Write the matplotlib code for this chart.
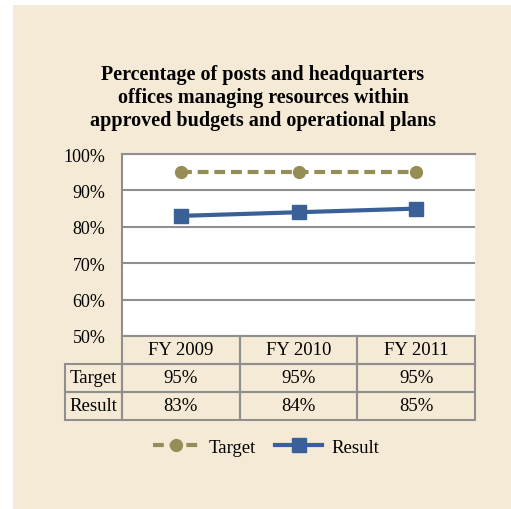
import matplotlib.pyplot as plt
from matplotlib.patches import Rectangle
from matplotlib.ticker import FuncFormatter

plt.rcParams['font.family'] = ['Liberation Serif', 'DejaVu Serif']

years = ["FY 2009", "FY 2010", "FY 2011"]
target = [95, 95, 95]
result = [83, 84, 85]
yticks = [50, 60, 70, 80, 90, 100]

BEIGE = '#F5EAD6'
OLIVE = '#968C55'
BLUE = '#3A6098'
GRID = '#8F8F8F'

W, H = 511, 510
fig = plt.figure(figsize=(W / 100, H / 100), dpi=100, facecolor='white')
fig.patches.append(Rectangle((13 / W, 0), 1, 1 - 6 / H, transform=fig.transFigure,
                             facecolor=BEIGE, edgecolor='none', zorder=-10))

# plot area in pixel coords
left, right, top, bottom = 122, 475, 155, 337
ax = fig.add_axes([left / W, 1 - bottom / H, (right - left) / W, (bottom - top) / H])
ax.set_facecolor('white')

x = list(range(len(years)))
ax.plot(x, target, color=OLIVE, lw=3, ls=(0, (2.6, 1.4)), marker='o', ms=8.5,
        label='Target', zorder=3)
ax.plot(x, result, color=BLUE, lw=3, marker='s', ms=10, label='Result', zorder=3)

ax.set_xlim(-0.5, len(years) - 0.5)
ax.set_ylim(50, 100)
ax.set_yticks(yticks)
ax.yaxis.set_major_formatter(FuncFormatter(lambda v, p: f"{v:.0f}%"))
ax.set_xticks([])
ax.tick_params(axis='y', length=0, pad=12, labelsize=13)
ax.grid(axis='y', color=GRID, lw=1.5)
for s in ['right', 'bottom']:
    ax.spines[s].set_visible(False)
for s in ['left', 'top']:
    ax.spines[s].set_color(GRID)
    ax.spines[s].set_linewidth(1.5)

# data table below the plot; bbox covers the data cells, row labels hang to the left
aw, ah = right - left, bottom - top
label_w, row_h = 59, 28
cell_text = [[f"{v}%" for v in target], [f"{v}%" for v in result]]
tbl = ax.table(cellText=cell_text, rowLabels=["Target", "Result"], colLabels=years,
               cellLoc='center', rowLoc='center',
               bbox=[0, -3 * row_h / ah, 1, 3 * row_h / ah])
tbl.auto_set_font_size(False)
tbl.set_fontsize(13.5)
for (r, c), cell in tbl.get_celld().items():
    cell.set_facecolor('none')
    cell.set_edgecolor(GRID)
    cell.set_linewidth(1.5)
    cell.set_width(label_w / aw if c == -1 else 1 / len(years))
    cell.set_height(row_h / ah)
tbl.set_clip_on(False)

fig.text(263 / W, 1 - 98 / H,
         "Percentage of posts and headquarters\noffices managing resources within\napproved budgets and operational plans",
         ha='center', va='center', fontsize=14.5, fontweight='bold', linespacing=1.2)

fig.legend(loc='center', bbox_to_anchor=(266 / W, 1 - 448 / H), ncol=2, frameon=False,
           fontsize=13.5, handlelength=2.5, columnspacing=1.0, handletextpad=0.5)

fig.savefig('out.png', dpi=100, facecolor='white')
